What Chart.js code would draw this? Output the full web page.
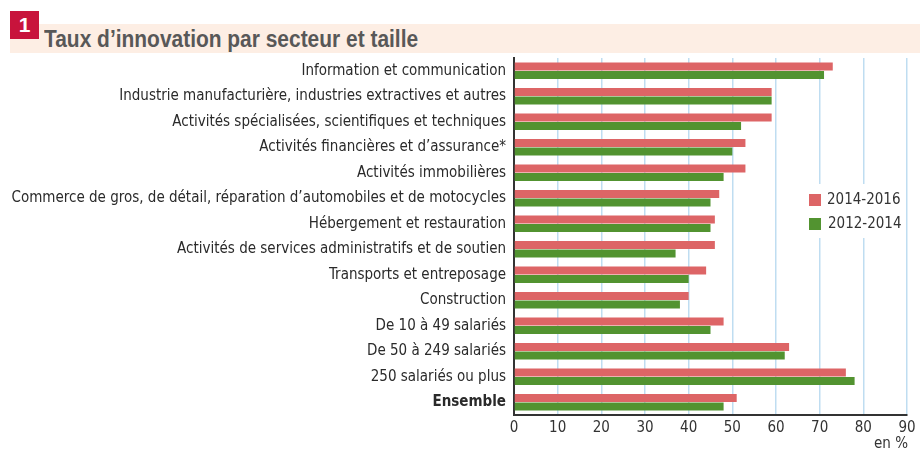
<!DOCTYPE html>
<html>
<head>
<meta charset="utf-8">
<script src="https://cdn.jsdelivr.net/npm/chart.js@4.4.1/dist/chart.umd.min.js"></script>
<style>
  body { margin: 0; background: #fff; }
  #wrap { position: relative; width: 920px; height: 450px; overflow: hidden; }
  #band { position: absolute; left: 10px; top: 24px; width: 910px; height: 29px; background: #FDEEE4; }
  #num { position: absolute; left: 10px; top: 11px; width: 29px; height: 28px; background: #C8143C;
         color: #fff; font: bold 21px "Liberation Sans", Arial, sans-serif; text-align: center; line-height: 28px; }
  #title { position: absolute; left: 44px; top: 26px; color: #585858; white-space: nowrap;
           font: bold 23px "Liberation Sans", Arial, sans-serif;
           transform: scaleX(0.91); transform-origin: left top; }
  #unit { position: absolute; right: 12px; top: 434px; color: #333;
          font: 15px "DejaVu Sans Condensed", sans-serif; }
  canvas { position: absolute; left: 0; top: 0; }
</style>
</head>
<body>
<div id="wrap">
  <div id="band"></div>
  <div id="num">1</div>
  <div id="title">Taux d’innovation par secteur et taille</div>
  <canvas id="myChart" width="920" height="450"></canvas>
  <div id="unit">en %</div>
</div>
<script>
const categories = [
    "Information et communication",
    "Industrie manufacturière, industries extractives et autres",
    "Activités spécialisées, scientifiques et techniques",
    "Activités financières et d’assurance*",
    "Activités immobilières",
    "Commerce de gros, de détail, réparation d’automobiles et de motocycles",
    "Hébergement et restauration",
    "Activités de services administratifs et de soutien",
    "Transports et entreposage",
    "Construction",
    "De 10 à 49 salariés",
    "De 50 à 249 salariés",
    "250 salariés ou plus",
    "Ensemble"
];
const values2014_2016 = [73, 59, 59, 53, 53, 47, 46, 46, 44, 40, 48, 63, 76, 51];
const values2012_2014 = [71, 59, 52, 50, 48, 45, 45, 37, 40, 38, 45, 62, 78, 48];
const xTicks = [0, 10, 20, 30, 40, 50, 60, 70, 80, 90];

const narrow = '"DejaVu Sans Condensed", sans-serif';

// legend box drawn inside the plot, over the grid lines
const legendBox = {
    id: 'legendBox',
    afterDatasetsDraw(chart){
        const ctx = chart.ctx;
        ctx.save();
        ctx.fillStyle = '#fff';
        ctx.fillRect(790, 184, 110, 54);
        ctx.font = '15px ' + narrow;
        ctx.textBaseline = 'middle';
        chart.data.datasets.forEach((ds, i) => {
            const y = 194 + i * 24;
            ctx.fillStyle = ds.backgroundColor;
            ctx.fillRect(809, y, 12, 12);
            ctx.fillStyle = '#333';
            ctx.fillText(ds.label, 827 + i, y + 6);
        });
        ctx.restore();
    }
};

const ctx = document.querySelector('#myChart').getContext('2d');
const myChart = new Chart(ctx, {
    type: 'bar',
    data: {
        labels: categories,
        datasets: [
            { label: '2014-2016', data: values2014_2016, backgroundColor: '#DD6566' },
            { label: '2012-2014', data: values2012_2014, backgroundColor: '#529330' }
        ]
    },
    options: {
        indexAxis: 'y',
        responsive: false,
        animation: false,
        categoryPercentage: 0.667,
        barPercentage: 0.94,
        layout: { padding: { top: 58, right: 13, left: 0, bottom: 0 } },
        plugins: {
            legend: { display: false },
            tooltip: { enabled: false }
        },
        scales: {
            x: {
                min: 0,
                max: 90,
                afterBuildTicks: axis => { axis.ticks = xTicks.map(v => ({ value: v })); },
                afterFit: axis => { axis.height = 35; },
                grid: { color: '#BFDDF1', lineWidth: 1.5, drawTicks: false },
                border: { display: true, color: '#333', width: 2 },
                ticks: { color: '#333', padding: 4, font: { size: 15, family: narrow } }
            },
            y: {
                afterFit: axis => { axis.width = 514; },
                grid: { display: false, drawTicks: false },
                border: { display: true, color: '#333', width: 2 },
                ticks: {
                    color: '#2a2a2a',
                    padding: 8,
                    font: c => ({ size: 15, family: narrow, weight: c.index === categories.length - 1 ? 'bold' : 'normal' })
                }
            }
        }
    },
    plugins: [legendBox]
});
</script>
</body>
</html>
